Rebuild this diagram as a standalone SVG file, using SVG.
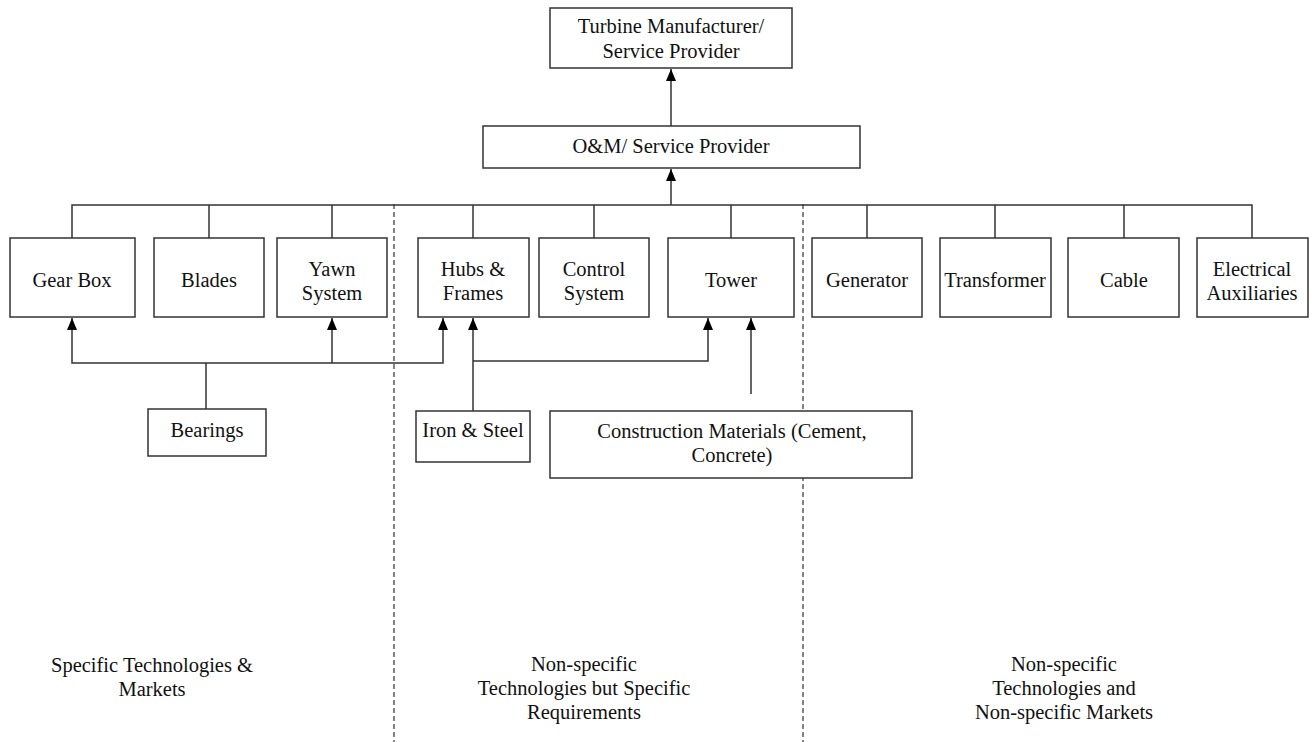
<svg xmlns="http://www.w3.org/2000/svg" width="1312" height="742" viewBox="0 0 1312 742">
<defs>
<marker id="arr" markerWidth="12" markerHeight="10" refX="12" refY="5" orient="auto" markerUnits="userSpaceOnUse" viewBox="0 0 12 10">
<path d="M0,0 L12,5 L0,10 Z" fill="#000"/>
</marker>
</defs>
<style>
.box{fill:#fff;stroke:#333;stroke-width:1.5}
.t{font-family:"Liberation Serif","Times New Roman",serif;font-size:20.5px;fill:#111;text-anchor:middle}
.c{fill:none;stroke:#333;stroke-width:1.5}
.a{fill:none;stroke:#333;stroke-width:1.5;marker-end:url(#arr)}
.d{fill:none;stroke:#333;stroke-width:1.2;stroke-dasharray:5,3}
</style>
<rect width="1312" height="742" fill="#fff"/>
<g id="dividers">
<line class="d" x1="394" y1="204" x2="394" y2="742"/>
<line class="d" x1="803" y1="204" x2="803" y2="742"/>
</g>
<g id="connectors">
<line class="a" x1="671" y1="126" x2="671" y2="69"/>
<line class="a" x1="671" y1="205" x2="671" y2="169"/>
<polyline class="c" points="72,238 72,205 1252,205 1252,238"/>
<line class="c" x1="209" y1="205" x2="209" y2="238"/>
<line class="c" x1="332" y1="205" x2="332" y2="238"/>
<line class="c" x1="473" y1="205" x2="473" y2="238"/>
<line class="c" x1="594" y1="205" x2="594" y2="238"/>
<line class="c" x1="731" y1="205" x2="731" y2="238"/>
<line class="c" x1="867" y1="205" x2="867" y2="238"/>
<line class="c" x1="995" y1="205" x2="995" y2="238"/>
<line class="c" x1="1124" y1="205" x2="1124" y2="238"/>
<line class="c" x1="206" y1="409" x2="206" y2="363"/>
<polyline class="a" points="206,363 72,363 72,318"/>
<polyline class="a" points="206,363 443,363 443,318"/>
<line class="a" x1="332" y1="363" x2="332" y2="318"/>
<line class="a" x1="473" y1="411" x2="473" y2="318"/>
<polyline class="a" points="473,361 708,361 708,318"/>
<line class="a" x1="751" y1="394" x2="751" y2="318"/>
</g>
<g id="turbine"><rect class="box" x="550" y="8" width="242" height="60"/><text class="t" x="671" y="33">Turbine Manufacturer/</text><text class="t" x="671" y="58">Service Provider</text></g>
<g id="om"><rect class="box" x="483" y="126" width="377" height="42"/><text class="t" x="671" y="153">O&amp;M/ Service Provider</text></g>
<g id="gearbox"><rect class="box" x="10" y="238" width="125" height="79"/><text class="t" x="72" y="287">Gear Box</text></g>
<g id="blades"><rect class="box" x="154" y="238" width="110" height="79"/><text class="t" x="209" y="287">Blades</text></g>
<g id="yawn"><rect class="box" x="277" y="238" width="110" height="79"/><text class="t" x="332" y="276">Yawn</text><text class="t" x="332" y="300">System</text></g>
<g id="hubs"><rect class="box" x="418" y="238" width="111" height="79"/><text class="t" x="473" y="276">Hubs &amp;</text><text class="t" x="473" y="300">Frames</text></g>
<g id="control"><rect class="box" x="539" y="238" width="110" height="79"/><text class="t" x="594" y="276">Control</text><text class="t" x="594" y="300">System</text></g>
<g id="tower"><rect class="box" x="668" y="238" width="126" height="79"/><text class="t" x="731" y="287">Tower</text></g>
<g id="generator"><rect class="box" x="812" y="238" width="110" height="79"/><text class="t" x="867" y="287">Generator</text></g>
<g id="transformer"><rect class="box" x="940" y="238" width="111" height="79"/><text class="t" x="995" y="287">Transformer</text></g>
<g id="cable"><rect class="box" x="1068" y="238" width="111" height="79"/><text class="t" x="1124" y="287">Cable</text></g>
<g id="electrical"><rect class="box" x="1197" y="238" width="111" height="79"/><text class="t" x="1252" y="276">Electrical</text><text class="t" x="1252" y="300">Auxiliaries</text></g>
<g id="bearings"><rect class="box" x="148" y="409" width="118" height="47"/><text class="t" x="207" y="437">Bearings</text></g>
<g id="ironsteel"><rect class="box" x="416" y="411" width="114" height="51"/><text class="t" x="473" y="437">Iron &amp; Steel</text></g>
<g id="construction"><rect class="box" x="550" y="411" width="362" height="67"/><text class="t" x="732" y="438">Construction Materials (Cement,</text><text class="t" x="732" y="462">Concrete)</text></g>
<g id="labels">
<text class="t" x="152" y="672">Specific Technologies &amp;</text>
<text class="t" x="152" y="696">Markets</text>
<text class="t" x="584" y="671">Non-specific</text>
<text class="t" x="584" y="695">Technologies but Specific</text>
<text class="t" x="584" y="719">Requirements</text>
<text class="t" x="1064" y="671">Non-specific</text>
<text class="t" x="1064" y="695">Technologies and</text>
<text class="t" x="1064" y="719">Non-specific Markets</text>
</g>
</svg>
